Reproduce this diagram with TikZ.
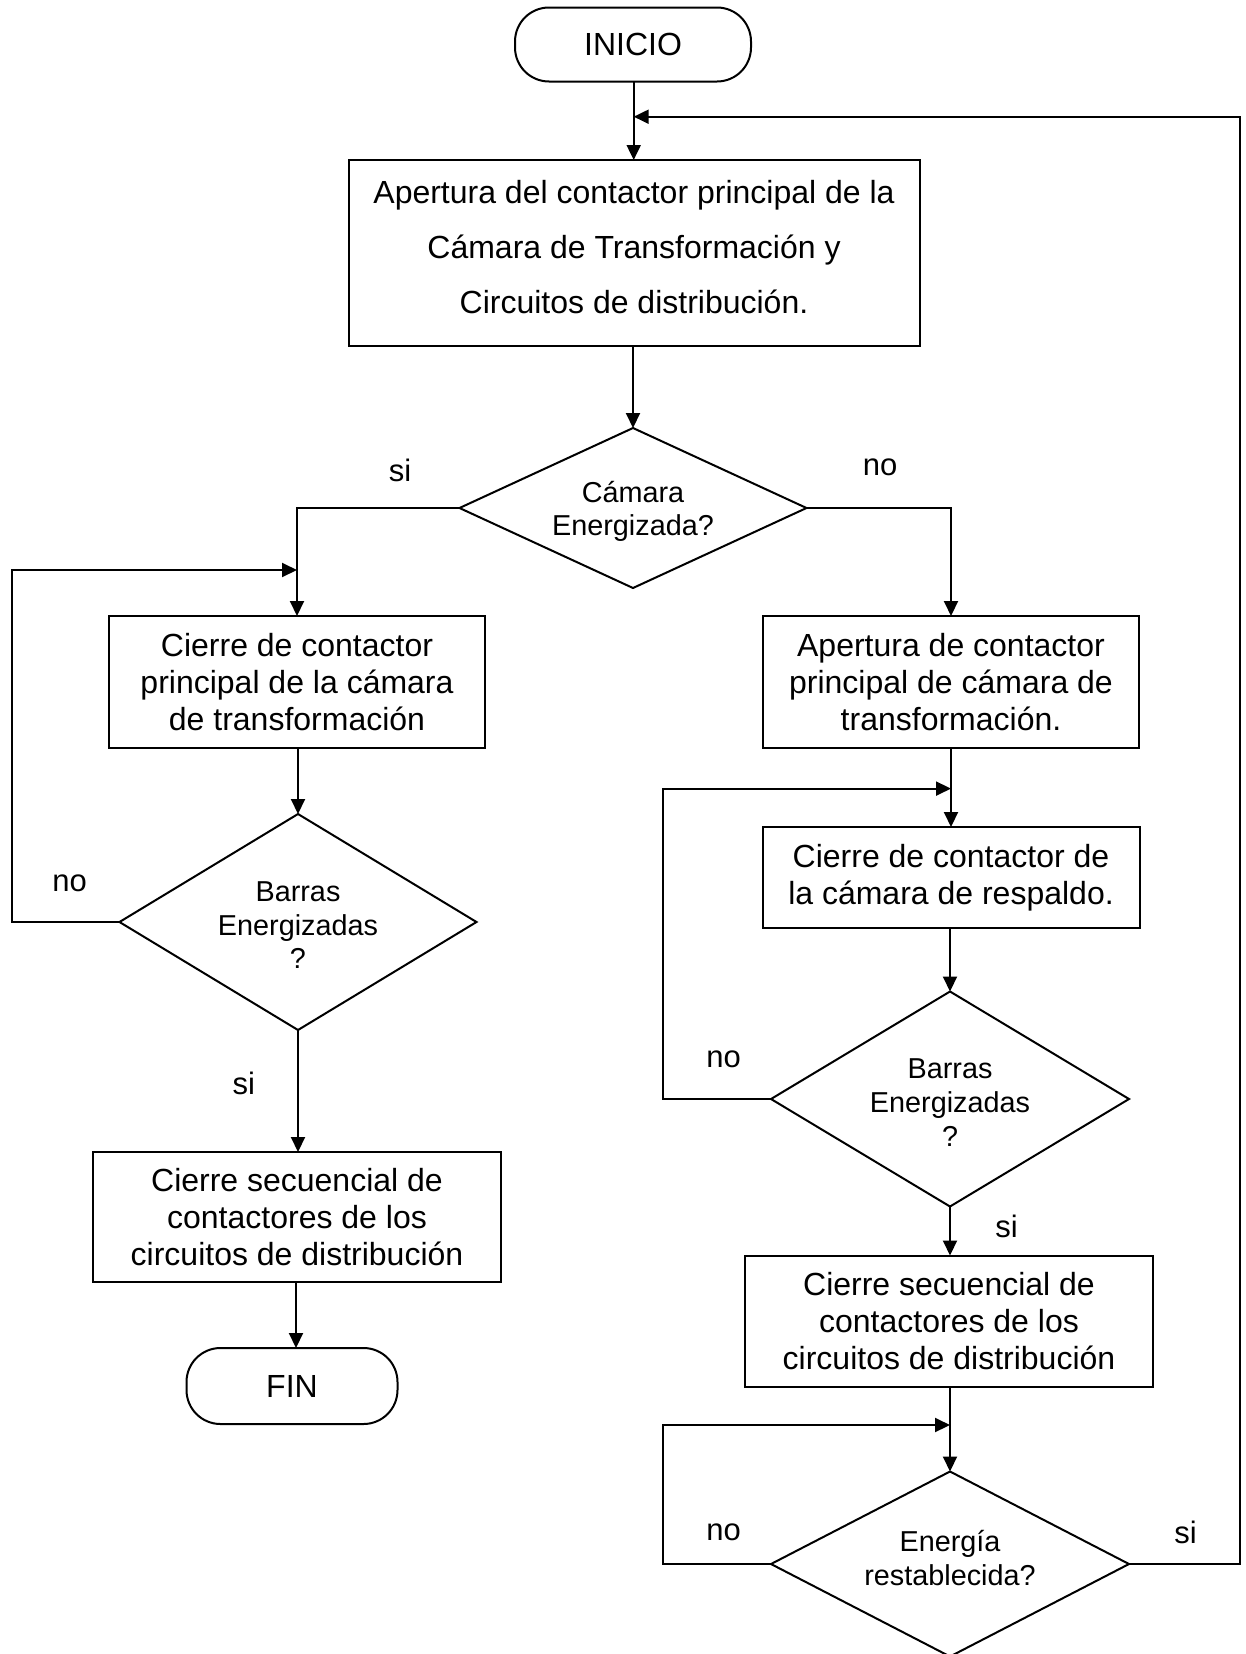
\documentclass[tikz,border=0pt]{standalone}
\usepackage{fontspec}
\setmainfont{Liberation Sans}
\usetikzlibrary{shapes.geometric,arrows.meta}
\begin{document}
\begin{tikzpicture}[x=0.5pt,y=-0.5pt,
  every node/.style={inner sep=0pt, outer sep=0pt},
  box/.style={draw, line width=1pt, rectangle, align=center, font=\fontsize{16pt}{18.5pt}\selectfont},
  boxtext/.style={align=center, font=\fontsize{16pt}{27.5pt}\selectfont},
  term/.style={draw, line width=1pt, rounded corners=17pt, align=center, font=\fontsize{16pt}{18.5pt}\selectfont},
  dec/.style={draw, line width=1pt, diamond},
  dectext/.style={align=center, font=\fontsize{14.4pt}{16.8pt}\selectfont},
  lbl/.style={font=\fontsize{15.5pt}{18pt}\selectfont},
  arr/.style={line width=1pt, -{Triangle[length=7.5pt,width=7pt]}},
  ln/.style={line width=1pt}
]
\useasboundingbox[fill=white] (0,0) rectangle (1246,1654);

% nodes
\node[term, minimum width=118pt, minimum height=37pt] (inicio) at (633,44.5) {INICIO};
\node[box, minimum width=285.5pt, minimum height=93pt] (box1) at (634,253) {};
\node[boxtext] (box1t) at ([yshift=3.2pt]box1.center)
  {Apertura del contactor principal de la\\Cámara de Transformación y\\Circuitos de distribución.};
\node[dec, minimum width=173.5pt, minimum height=80pt] (dec1) at (633,508) {};
\node[dectext] (dec1t) at ([yshift=-1.6pt]dec1.center) {Cámara\\Energizada?};

\node[box, minimum width=188pt, minimum height=66pt] (box2) at (297,682)
  {Cierre de contactor\\principal de la cámara\\de transformación};
\node[box, minimum width=188pt, minimum height=66pt] (box3) at (951,682)
  {Apertura de contactor\\principal de cámara de\\transformación.};

\node[dec, minimum width=178.5pt, minimum height=108pt] (dec2) at (298,922) {};
\node[dectext] (dec2t) at ([yshift=-1.6pt]dec2.center) {Barras\\Energizadas\\?};

\node[box, minimum width=204pt, minimum height=65pt] (box4) at (297,1217)
  {Cierre secuencial de\\contactores de los\\circuitos de distribución};
\node[term, minimum width=105.5pt, minimum height=38pt] (fin) at (292,1386) {FIN};

\node[box, minimum width=188.5pt, minimum height=50.5pt] (box5) at (951,877.5)
  {Cierre de contactor de\\la cámara de respaldo.};
\node[dec, minimum width=179pt, minimum height=107.5pt] (dec3) at (950,1099) {};
\node[dectext] (dec3t) at ([yshift=-1.8pt]dec3.center) {Barras\\Energizadas\\?};

\node[box, minimum width=204pt, minimum height=65.5pt] (box6) at (949,1321)
  {Cierre secuencial de\\contactores de los\\circuitos de distribución};
\node[dec, minimum width=179pt, minimum height=92.5pt] (dec4) at (950,1564) {};
\node[dectext] (dec4t) at ([yshift=2.9pt]dec4.center) {Energía\\restablecida?};

% labels
\node[lbl] (l1) at (400,470) {si};
\node[lbl] (l2) at (880,467) {no};
\node[lbl] (l3) at (69.7,883) {no};
\node[lbl] (l4) at (243.8,1083.5) {si};
\node[lbl] (l5) at (723.7,1059.5) {no};
\node[lbl] (l6) at (1006.5,1226) {si};
\node[lbl] (l7) at (723.7,1532.5) {no};
\node[lbl] (l8) at (1185.5,1532) {si};

% helper coordinates
\coordinate (j0) at (633.7,116.7);
\coordinate (rc) at (1240,116.7);
\coordinate (lc1) at (12.4,570);
\coordinate (j1) at (297,570);
\coordinate (lc2) at (663,788.6);
\coordinate (j2) at (951,788.6);
\coordinate (lc3) at (663,1425);
\coordinate (j3) at (950,1425);

% connectors
\draw[arr] (inicio.south -| j0) -- (box1.north -| j0);
\draw[arr] (dec4.east) -| (rc) -- (j0);
\draw[arr] (box1.south -| dec1.north) -- (dec1.north);
\draw[arr] (dec1.west) -| (box2.north);
\draw[arr] (dec1.east) -| (box3.north);
\draw[arr] (dec2.west) -| (lc1) -- (j1);
\draw[arr] (box2.south -| dec2.north) -- (dec2.north);
\draw[arr] (dec2.south) -- (dec2.south |- box4.north);
\draw[arr] (box4.south -| 296,0) -- (fin.north -| 296,0);
\draw[arr] (box3.south) -- (box5.north);
\draw[arr] (dec3.west) -| (lc2) -- (j2);
\draw[arr] (box5.south -| dec3.north) -- (dec3.north);
\draw[arr] (dec3.south) -- (dec3.south |- box6.north);
\draw[arr] (box6.south -| dec4.north) -- (dec4.north);
\draw[arr] (dec4.west) -| (lc3) -- (j3);
\end{tikzpicture}
\end{document}
